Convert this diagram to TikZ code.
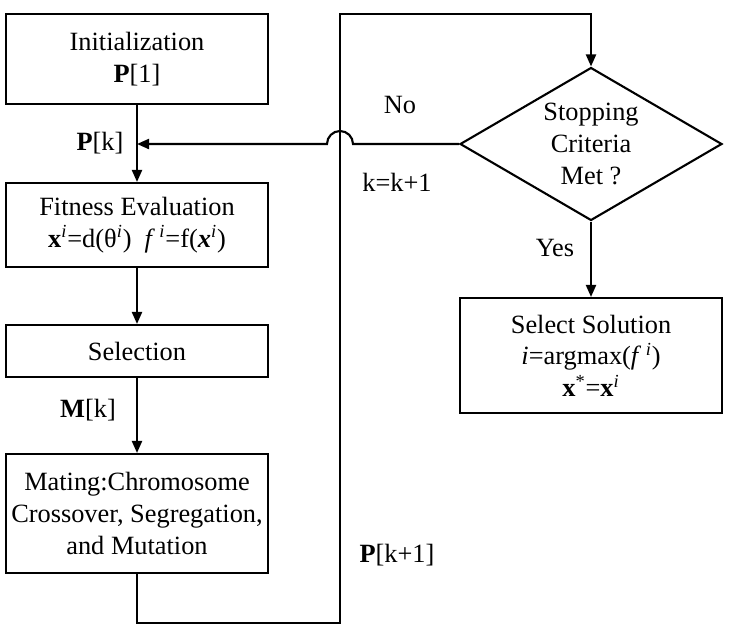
\documentclass[tikz,border=0pt]{standalone}
\usepackage{fontspec}
\setmainfont{Liberation Serif}
\usetikzlibrary{shapes.geometric,arrows.meta}

\tikzset{
  box/.style={draw, line width=1.2pt, minimum width=5.24cm, inner sep=1pt, align=center, font=\fontsize{15}{18}\selectfont},
  decision/.style={draw, diamond, aspect=1.71, line width=1.2pt, minimum width=5.24cm, minimum height=3.06cm, inner sep=0pt, align=center, font=\fontsize{15}{18}\selectfont},
  flow/.style={line width=1.2pt, -{Triangle[length=0.24cm,width=0.2cm]}},
  lbl/.style={font=\fontsize{15}{18}\selectfont},
}

\begin{document}
\begin{tikzpicture}[x=0.02cm, y=-0.02cm]
    \useasboundingbox (0,0) rectangle (729,629);

    % Left column
    \node[box, minimum height=1.8cm] (init) at (137,59) {Initialization\\\textbf{P}[1]};
    \node[box, minimum height=1.68cm] (fit) at (137,225) {Fitness Evaluation\\\textbf{x}\textsuperscript{\itshape i}=d(θ\textsuperscript{\itshape i})\ \ \textit{f}\,\textsuperscript{\itshape i}=f(\textbf{\textit{x}}\textsuperscript{\itshape i})};
    \node[box, minimum height=1.04cm] (sel) at (137,351) {Selection};
    \node[box, minimum height=2.38cm] (mate) at (137,513.5) {Mating:Chromosome\\Crossover, Segregation,\\and Mutation};

    % Right column
    \node[decision] (dec) at (591,144) {Stopping\\Criteria\\Met ?};
    \node[box, minimum height=2.3cm] (sol) at (591,355.5) {Select Solution\\\textit{i}=argmax(\textit{f}\,\textsuperscript{\itshape i})\\\textbf{x}\textsuperscript{*}=\textbf{x}\textsuperscript{\itshape i}};

    % Loop corners
    \coordinate (lb) at (137,623);
    \coordinate (rb) at (340,623);
    \coordinate (rt) at (340,14);
    \coordinate (cross) at (rt |- dec.west);
    \coordinate (pk) at (init.south |- dec.west);

    % Connectors
    \draw[flow] (init.south) -- (fit.north);
    \draw[flow] (fit.south) -- (sel.north);
    \draw[flow] (sel.south) -- (mate.north);
    \draw[flow] (mate.south) -- (lb) -- (rb) -- (rt) -| (dec.north);
    \draw[flow] (dec.west) -- ([xshift=0.26cm]cross) arc[start angle=0, end angle=180, radius=0.26cm] -- (pk);
    \draw[flow] (dec.south) -- (sol.north);

    % Labels
    \node[lbl] (lpk) at (100,143) {\textbf{P}[k]};
    \node[lbl] (lmk) at (88,410) {\textbf{M}[k]};
    \node[lbl] (lno) at (400,105) {No};
    \node[lbl] (linc) at (397,182) {k=k+1};
    \node[lbl] (lyes) at (555,248) {Yes};
    \node[lbl] (lnext) at (397,555) {\textbf{P}[k+1]};
\end{tikzpicture}
\end{document}
